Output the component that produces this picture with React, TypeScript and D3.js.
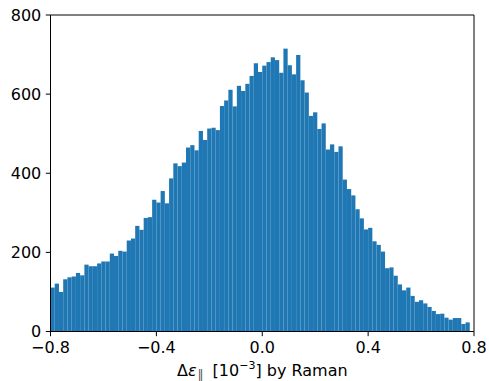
import React from "react";
import * as d3 from "d3";

const binStart = -0.8;
const binWidth = 0.016;
const counts = [
  111, 121, 100, 132, 137, 139, 148, 142, 169, 165,
  165, 172, 177, 177, 197, 191, 204, 202, 230, 235,
  267, 257, 287, 289, 333, 326, 355, 324, 387, 425,
  418, 427, 465, 471, 458, 507, 484, 513, 515, 509,
  570, 584, 611, 569, 621, 608, 626, 646, 678, 656,
  672, 681, 693, 686, 654, 715, 673, 650, 699, 635,
  604, 545, 554, 512, 526, 460, 473, 454, 468, 384,
  360, 344, 309, 286, 258, 262, 228, 219, 202, 160,
  162, 141, 119, 104, 111, 90, 75, 79, 71, 62,
  52, 44, 45, 35, 30, 34, 34, 19, 23, 0,
];
const xTicks = [-0.8, -0.4, 0.0, 0.4, 0.8];
const yTicks = [0, 200, 400, 600, 800];

const W = 489;
const H = 381;
const left = 50.5;
const right = 474;
const top = 15;
const bottom = 331.5;

export default function App() {
  const x = d3.scaleLinear().domain([-0.8, 0.8]).range([left, right]);
  const y = d3.scaleLinear().domain([0, 800]).range([bottom, top]);
  const fmt = (v: number) => {
    const s = d3.format(".1f")(Math.abs(v));
    return v < 0 ? "\u2212" + s : s;
  };
  const font = "DejaVu Sans";
  const tick = 4.7;
  return (
    <svg width={W} height={H} style={{ position: "absolute", left: 0, top: 0 }} fontFamily={font}>
      <rect x={0} y={0} width={W} height={H} fill="#fff" />
      {counts.map((c, i) => {
        const x0 = x(binStart + i * binWidth);
        const x1 = x(binStart + (i + 1) * binWidth);
        if (c <= 0) return null;
        return (
          <rect key={i} x={x0} y={y(c)} width={x1 - x0} height={y(0) - y(c)} fill="#1f77b4" />
        );
      })}
      {/* spines */}
      <line x1={left} x2={left} y1={top} y2={bottom} stroke="#000" strokeWidth={1} />
      <line x1={left} x2={right} y1={bottom} y2={bottom} stroke="#000" strokeWidth={1} />
      <line x1={right} x2={right} y1={top} y2={bottom} stroke="#000" strokeWidth={1} />
      <line x1={left} x2={right} y1={top} y2={top} stroke="#000" strokeWidth={1} />
      {/* y ticks */}
      {yTicks.map((t) => (
        <g key={t}>
          <line x1={left - tick} x2={left} y1={y(t)} y2={y(t)} stroke="#000" strokeWidth={1} />
          <text x={left - tick - 4.5} y={y(t)} dy="0.36em" textAnchor="end" fontSize={16} fill="#000">
            {t}
          </text>
        </g>
      ))}
      {/* x ticks */}
      {xTicks.map((t) => (
        <g key={t}>
          <line x1={x(t)} x2={x(t)} y1={bottom} y2={bottom + tick} stroke="#000" strokeWidth={1} />
          <text x={x(t)} y={bottom + tick + 16.3} textAnchor="middle" fontSize={16} fill="#000">
            {fmt(t)}
          </text>
        </g>
      ))}
      {/* x label */}
      <text x={(left + right) / 2} y={376} textAnchor="middle" fontSize={16} fill="#000">
        <tspan>Δ</tspan>
        <tspan fontStyle="italic">ε</tspan>
        <tspan fontSize={12} dy={3} dx={1} fill="#555">{"\u2016"}</tspan>
        <tspan dy={-3} dx={4}>{" [10"}</tspan>
        <tspan fontSize={11} dy={-7}>{"\u22123"}</tspan>
        <tspan dy={7}>{"] by Raman"}</tspan>
      </text>
    </svg>
  );
}
